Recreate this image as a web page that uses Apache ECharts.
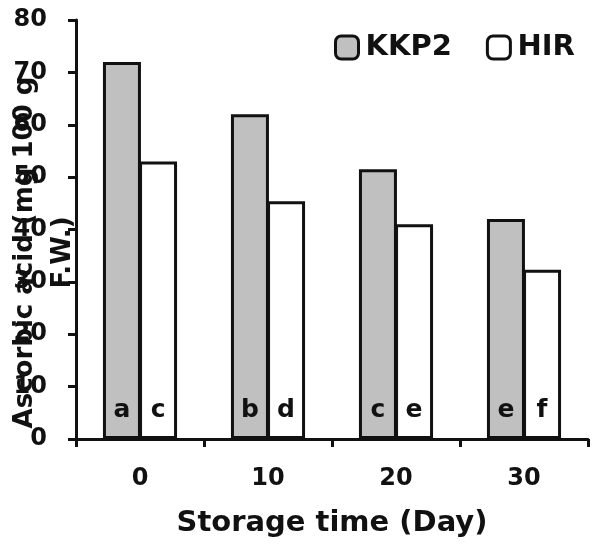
<!DOCTYPE html>
<html>
<head>
<meta charset="utf-8">
<script src="https://cdn.jsdelivr.net/npm/echarts@6/dist/echarts.min.js"></script>
<style>html,body{margin:0;padding:0;background:#fff;}#main{width:600px;height:547px;}</style>
</head>
<body>
<div id="main"></div>
<script>
const categories = ['0', '10', '20', '30'];
const kkp2 = [72, 62, 51.5, 42];
const hir = [53, 45.4, 41, 32.3];
const kkp2Letters = ['a', 'b', 'c', 'e'];
const hirLetters = ['c', 'd', 'e', 'f'];
const seriesNames = ['KKP2', 'HIR'];
const xTitle = 'Storage time (Day)';
const yTitle = 'Ascorbic acid (mg 100 g\nF.W.)';

const FONT = 'DejaVu Sans';
const INK = '#111';
const chart = echarts.init(document.getElementById('main'), null, {renderer: 'canvas'});

function letterLabel(letters) {
  return {
    show: true,
    position: 'insideBottom',
    distance: 16,
    formatter: p => letters[p.dataIndex],
    fontFamily: FONT,
    fontWeight: 'bold',
    fontSize: 25,
    color: INK
  };
}

chart.setOption({
  animation: false,
  backgroundColor: '#fff',
  textStyle: {fontFamily: FONT},
  grid: {left: 76, right: 12, top: 20, bottom: 108, containLabel: false, outerBoundsMode: 'none'},
  legend: {
    left: 329, top: 28,
    itemWidth: 23, itemHeight: 23, itemGap: 34,
    icon: 'roundRect',
    itemStyle: {borderColor: INK, borderWidth: 3},
    textStyle: {fontFamily: FONT, fontWeight: 'bold', fontSize: 29, color: INK, padding: [0, 0, 0, 2]},
    data: seriesNames
  },
  xAxis: {
    type: 'category',
    data: categories,
    boundaryGap: true,
    axisLine: {lineStyle: {color: INK, width: 3}},
    axisTick: {show: true, inside: false, length: 8, alignWithLabel: false, lineStyle: {color: INK, width: 3}},
    axisLabel: {margin: 28, fontFamily: FONT, fontWeight: 'bold', fontSize: 24, color: INK},
    name: xTitle,
    nameLocation: 'middle',
    nameGap: 70,
    nameMoveOverlap: false,
    nameTextStyle: {fontFamily: FONT, fontWeight: 'bold', fontSize: 29, color: INK}
  },
  yAxis: {
    type: 'value',
    min: 0, max: 80, interval: 10,
    splitLine: {show: false},
    axisLine: {show: true, lineStyle: {color: INK, width: 3}},
    axisTick: {show: true, inside: false, length: 8, lineStyle: {color: INK, width: 3}},
    axisLabel: {margin: 29, fontFamily: FONT, fontWeight: 'bold', fontSize: 24, color: INK},
    name: yTitle,
    nameLocation: 'middle',
    nameRotate: 90,
    nameGap: -6,
    nameMoveOverlap: false,
    nameTextStyle: {fontFamily: FONT, fontWeight: 'bold', fontSize: 26, lineHeight: 38, color: INK, align: 'center', padding: [0, 46, 0, 0]}
  },
  series: [
    {
      name: seriesNames[0], type: 'bar', data: kkp2,
      barWidth: 38, barGap: '-5%',
      itemStyle: {color: '#c0c0c0', borderColor: INK, borderWidth: 3},
      label: letterLabel(kkp2Letters)
    },
    {
      name: seriesNames[1], type: 'bar', data: hir,
      barWidth: 38, barGap: '-5%',
      itemStyle: {color: '#ffffff', borderColor: INK, borderWidth: 3},
      label: letterLabel(hirLetters)
    }
  ]
});
</script>
</body>
</html>
